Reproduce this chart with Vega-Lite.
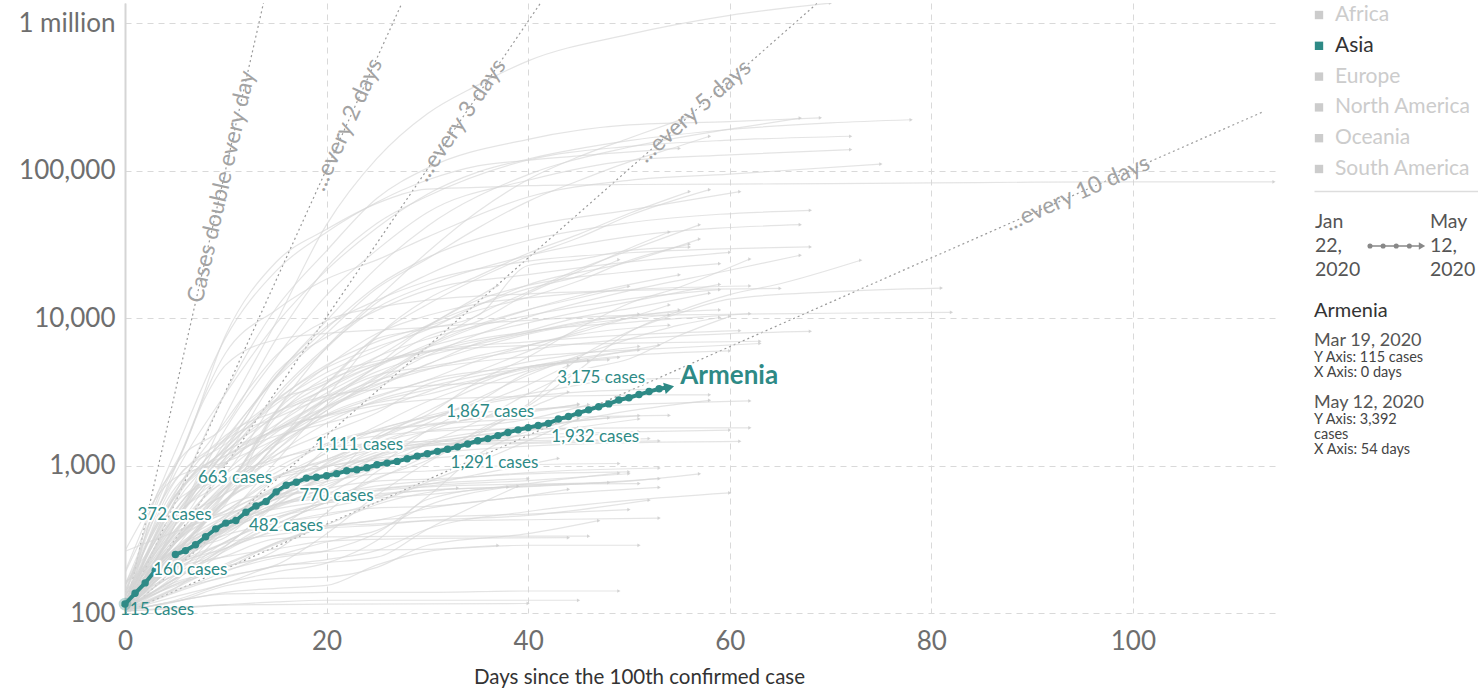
{
"$schema":"https://vega.github.io/schema/vega-lite/v6.json",
"background":"white",
"padding":{"left":3,"top":3,"right":0,"bottom":0},
"config":{"font":"Lato","view":{"stroke":null},"title":{"font":"Lato","subtitleFont":"Lato"}},
"datasets":{
"doubling":[{"k":1,"d":0,"v":100},{"k":1,"d":13.74,"v":1370000},{"k":2,"d":0,"v":100},{"k":2,"d":27.48,"v":1370000},{"k":3,"d":0,"v":100},{"k":3,"d":41.23,"v":1370000},{"k":5,"d":0,"v":100},{"k":5,"d":68.71,"v":1370000},{"k":10,"d":0,"v":100},{"k":10,"d":113,"v":252000}],
"dlabels":[{"k":1,"d":9.6,"v":77600,"t":"Cases double every day"},{"k":2,"d":22,"v":204800,"t":"...every 2 days"},{"k":3,"d":33.3,"v":219500,"t":"...every 3 days"},{"k":5,"d":56.5,"v":252100,"t":"...every 5 days"},{"k":10,"d":94.5,"v":69900,"t":"...every 10 days"}],
"armenia":[{"seg":1,"d":0,"v":115},{"seg":1,"d":1,"v":136},{"seg":1,"d":2,"v":160},{"seg":1,"d":3,"v":194},{"seg":2,"d":5,"v":249},{"seg":2,"d":6,"v":265},{"seg":2,"d":7,"v":290},{"seg":2,"d":8,"v":329},{"seg":2,"d":9,"v":372},{"seg":2,"d":10,"v":407},{"seg":2,"d":11,"v":424},{"seg":2,"d":12,"v":482},{"seg":2,"d":13,"v":532},{"seg":2,"d":14,"v":571},{"seg":2,"d":15,"v":663},{"seg":2,"d":16,"v":736},{"seg":2,"d":17,"v":770},{"seg":2,"d":18,"v":822},{"seg":2,"d":19,"v":833},{"seg":2,"d":20,"v":853},{"seg":2,"d":21,"v":881},{"seg":2,"d":22,"v":921},{"seg":2,"d":23,"v":937},{"seg":2,"d":24,"v":967},{"seg":2,"d":25,"v":1013},{"seg":2,"d":26,"v":1039},{"seg":2,"d":27,"v":1067},{"seg":2,"d":28,"v":1111},{"seg":2,"d":29,"v":1159},{"seg":2,"d":30,"v":1201},{"seg":2,"d":31,"v":1248},{"seg":2,"d":32,"v":1291},{"seg":2,"d":33,"v":1339},{"seg":2,"d":34,"v":1401},{"seg":2,"d":35,"v":1473},{"seg":2,"d":36,"v":1523},{"seg":2,"d":37,"v":1596},{"seg":2,"d":38,"v":1677},{"seg":2,"d":39,"v":1746},{"seg":2,"d":40,"v":1808},{"seg":2,"d":41,"v":1867},{"seg":2,"d":42,"v":1932},{"seg":2,"d":43,"v":2066},{"seg":2,"d":44,"v":2148},{"seg":2,"d":45,"v":2273},{"seg":2,"d":46,"v":2386},{"seg":2,"d":47,"v":2507},{"seg":2,"d":48,"v":2619},{"seg":2,"d":49,"v":2782},{"seg":2,"d":50,"v":2884},{"seg":2,"d":51,"v":3029},{"seg":2,"d":52,"v":3175},{"seg":2,"d":53,"v":3313},{"seg":2,"d":54,"v":3392}],
"alabels":[{"d":0,"v":115,"side":"b"},{"d":2,"v":160,"side":"ra"},{"d":9,"v":372,"side":"la"},{"d":12,"v":482,"side":"rb"},{"d":15,"v":663,"side":"la"},{"d":17,"v":770,"side":"rb"},{"d":28,"v":1111,"side":"la"},{"d":32,"v":1291,"side":"rb"},{"d":41,"v":1867,"side":"la"},{"d":42,"v":1932,"side":"rb"},{"d":52,"v":3175,"side":"la"}],
"countries":[
{"c":"USA","d":0,"v":100},{"c":"USA","d":5,"v":400},{"c":"USA","d":10,"v":2200},{"c":"USA","d":15,"v":9400},{"c":"USA","d":20,"v":43000},{"c":"USA","d":25,"v":121000},{"c":"USA","d":30,"v":243000},{"c":"USA","d":35,"v":380000},{"c":"USA","d":40,"v":555000},{"c":"USA","d":50,"v":840000},{"c":"USA","d":60,"v":1130000},{"c":"USA","d":70,"v":1369000},
{"c":"ESP","d":0,"v":120},{"c":"ESP","d":5,"v":589},{"c":"ESP","d":10,"v":3146},{"c":"ESP","d":15,"v":11700},{"c":"ESP","d":20,"v":28600},{"c":"ESP","d":25,"v":65000},{"c":"ESP","d":30,"v":104000},{"c":"ESP","d":40,"v":163000},{"c":"ESP","d":50,"v":204000},{"c":"ESP","d":60,"v":215000},{"c":"ESP","d":69,"v":228000},
{"c":"ITA","d":0,"v":155},{"c":"ITA","d":5,"v":888},{"c":"ITA","d":10,"v":3089},{"c":"ITA","d":15,"v":9172},{"c":"ITA","d":20,"v":21157},{"c":"ITA","d":25,"v":41035},{"c":"ITA","d":30,"v":69176},{"c":"ITA","d":35,"v":97689},{"c":"ITA","d":40,"v":119827},{"c":"ITA","d":50,"v":159516},{"c":"ITA","d":60,"v":189973},{"c":"ITA","d":70,"v":210717},{"c":"ITA","d":78,"v":221216},
{"c":"GBR","d":0,"v":116},{"c":"GBR","d":5,"v":460},{"c":"GBR","d":10,"v":1140},{"c":"GBR","d":15,"v":4000},{"c":"GBR","d":20,"v":9600},{"c":"GBR","d":25,"v":22000},{"c":"GBR","d":30,"v":42000},{"c":"GBR","d":40,"v":94000},{"c":"GBR","d":50,"v":144000},{"c":"GBR","d":60,"v":191000},{"c":"GBR","d":67,"v":227000},
{"c":"RUS","d":0,"v":114},{"c":"RUS","d":10,"v":658},{"c":"RUS","d":15,"v":2337},{"c":"RUS","d":20,"v":6343},{"c":"RUS","d":25,"v":13584},{"c":"RUS","d":30,"v":27938},{"c":"RUS","d":35,"v":52763},{"c":"RUS","d":40,"v":87147},{"c":"RUS","d":45,"v":124054},{"c":"RUS","d":50,"v":165929},{"c":"RUS","d":56,"v":232243},
{"c":"DEU","d":0,"v":130},{"c":"DEU","d":5,"v":1000},{"c":"DEU","d":10,"v":1900},{"c":"DEU","d":15,"v":7200},{"c":"DEU","d":20,"v":22000},{"c":"DEU","d":25,"v":43900},{"c":"DEU","d":30,"v":67000},{"c":"DEU","d":40,"v":118000},{"c":"DEU","d":50,"v":146000},{"c":"DEU","d":60,"v":161000},{"c":"DEU","d":72,"v":171000},
{"c":"BRA","d":0,"v":151},{"c":"BRA","d":5,"v":621},{"c":"BRA","d":10,"v":1546},{"c":"BRA","d":15,"v":3904},{"c":"BRA","d":20,"v":7910},{"c":"BRA","d":25,"v":15927},{"c":"BRA","d":30,"v":25262},{"c":"BRA","d":35,"v":40743},{"c":"BRA","d":40,"v":61888},{"c":"BRA","d":45,"v":85380},{"c":"BRA","d":50,"v":114715},{"c":"BRA","d":55,"v":146894},{"c":"BRA","d":58,"v":171000},
{"c":"TUR","d":0,"v":191},{"c":"TUR","d":5,"v":1256},{"c":"TUR","d":10,"v":7402},{"c":"TUR","d":15,"v":20921},{"c":"TUR","d":20,"v":38226},{"c":"TUR","d":25,"v":61049},{"c":"TUR","d":30,"v":86306},{"c":"TUR","d":35,"v":107773},{"c":"TUR","d":40,"v":117589},{"c":"TUR","d":45,"v":126045},{"c":"TUR","d":55,"v":141475},
{"c":"FRA","d":0,"v":100},{"c":"FRA","d":5,"v":400},{"c":"FRA","d":10,"v":1784},{"c":"FRA","d":15,"v":5400},{"c":"FRA","d":20,"v":14300},{"c":"FRA","d":25,"v":29000},{"c":"FRA","d":30,"v":52000},{"c":"FRA","d":40,"v":86000},{"c":"FRA","d":50,"v":117000},{"c":"FRA","d":60,"v":128000},{"c":"FRA","d":72,"v":139000},
{"c":"IRN","d":0,"v":141},{"c":"IRN","d":5,"v":978},{"c":"IRN","d":10,"v":5823},{"c":"IRN","d":15,"v":11364},{"c":"IRN","d":20,"v":18407},{"c":"IRN","d":25,"v":24811},{"c":"IRN","d":30,"v":35408},{"c":"IRN","d":40,"v":66220},{"c":"IRN","d":50,"v":85996},{"c":"IRN","d":60,"v":94640},{"c":"IRN","d":75,"v":110767},
{"c":"CHN","d":0,"v":100},{"c":"CHN","d":3,"v":548},{"c":"CHN","d":6,"v":1400},{"c":"CHN","d":10,"v":7700},{"c":"CHN","d":15,"v":24000},{"c":"CHN","d":20,"v":40000},{"c":"CHN","d":25,"v":60000},{"c":"CHN","d":30,"v":75000},{"c":"CHN","d":35,"v":77000},{"c":"CHN","d":40,"v":79000},{"c":"CHN","d":50,"v":80500},{"c":"CHN","d":60,"v":81000},{"c":"CHN","d":70,"v":81600},{"c":"CHN","d":80,"v":82500},{"c":"CHN","d":90,"v":83500},{"c":"CHN","d":100,"v":83900},{"c":"CHN","d":114,"v":84000},
{"c":"CAN","d":0,"v":117},{"c":"CAN","d":5,"v":398},{"c":"CAN","d":10,"v":1470},{"c":"CAN","d":15,"v":4000},{"c":"CAN","d":20,"v":8500},{"c":"CAN","d":25,"v":16500},{"c":"CAN","d":30,"v":25700},{"c":"CAN","d":40,"v":42000},{"c":"CAN","d":50,"v":54000},{"c":"CAN","d":61,"v":72000},
{"c":"IND","d":0,"v":107},{"c":"IND","d":5,"v":396},{"c":"IND","d":10,"v":649},{"c":"IND","d":15,"v":1397},{"c":"IND","d":20,"v":3588},{"c":"IND","d":25,"v":7598},{"c":"IND","d":30,"v":12370},{"c":"IND","d":35,"v":18539},{"c":"IND","d":40,"v":26283},{"c":"IND","d":45,"v":35043},{"c":"IND","d":50,"v":49391},{"c":"IND","d":58,"v":74281},
{"c":"PER","d":0,"v":117},{"c":"PER","d":5,"v":318},{"c":"PER","d":10,"v":580},{"c":"PER","d":15,"v":1414},{"c":"PER","d":20,"v":2954},{"c":"PER","d":25,"v":7519},{"c":"PER","d":30,"v":13489},{"c":"PER","d":35,"v":19250},{"c":"PER","d":40,"v":27517},{"c":"PER","d":45,"v":36976},{"c":"PER","d":50,"v":51189},{"c":"PER","d":56,"v":72059},
{"c":"BEL","d":0,"v":109},{"c":"BEL","d":5,"v":559},{"c":"BEL","d":10,"v":886},{"c":"BEL","d":15,"v":2815},{"c":"BEL","d":20,"v":6235},{"c":"BEL","d":25,"v":12775},{"c":"BEL","d":30,"v":19691},{"c":"BEL","d":40,"v":33573},{"c":"BEL","d":50,"v":44293},{"c":"BEL","d":68,"v":53779},
{"c":"NLD","d":0,"v":128},{"c":"NLD","d":5,"v":503},{"c":"NLD","d":10,"v":1135},{"c":"NLD","d":15,"v":3003},{"c":"NLD","d":20,"v":6412},{"c":"NLD","d":25,"v":11750},{"c":"NLD","d":30,"v":16627},{"c":"NLD","d":40,"v":26551},{"c":"NLD","d":50,"v":35729},{"c":"NLD","d":67,"v":43000},
{"c":"SAU","d":0,"v":118},{"c":"SAU","d":10,"v":767},{"c":"SAU","d":15,"v":1453},{"c":"SAU","d":20,"v":2523},{"c":"SAU","d":25,"v":4033},{"c":"SAU","d":30,"v":6380},{"c":"SAU","d":35,"v":10484},{"c":"SAU","d":40,"v":15102},{"c":"SAU","d":45,"v":21402},{"c":"SAU","d":50,"v":28656},{"c":"SAU","d":57,"v":42925},
{"c":"MEX","d":0,"v":118},{"c":"MEX","d":10,"v":585},{"c":"MEX","d":15,"v":1378},{"c":"MEX","d":20,"v":2785},{"c":"MEX","d":25,"v":4661},{"c":"MEX","d":30,"v":7497},{"c":"MEX","d":35,"v":9501},{"c":"MEX","d":40,"v":14677},{"c":"MEX","d":45,"v":20739},{"c":"MEX","d":50,"v":29616},{"c":"MEX","d":54,"v":38324},
{"c":"PAK","d":0,"v":187},{"c":"PAK","d":5,"v":803},{"c":"PAK","d":10,"v":1526},{"c":"PAK","d":15,"v":2818},{"c":"PAK","d":20,"v":4601},{"c":"PAK","d":25,"v":6383},{"c":"PAK","d":30,"v":8348},{"c":"PAK","d":35,"v":12227},{"c":"PAK","d":40,"v":16817},{"c":"PAK","d":50,"v":24073},{"c":"PAK","d":57,"v":34336},
{"c":"CHL","d":0,"v":156},{"c":"CHL","d":5,"v":632},{"c":"CHL","d":10,"v":1306},{"c":"CHL","d":15,"v":2738},{"c":"CHL","d":20,"v":4815},{"c":"CHL","d":25,"v":6927},{"c":"CHL","d":30,"v":8807},{"c":"CHL","d":35,"v":11296},{"c":"CHL","d":40,"v":13813},{"c":"CHL","d":45,"v":17835},{"c":"CHL","d":50,"v":24581},{"c":"CHL","d":56,"v":31721},
{"c":"ECU","d":0,"v":111},{"c":"ECU","d":5,"v":789},{"c":"ECU","d":10,"v":1403},{"c":"ECU","d":15,"v":2748},{"c":"ECU","d":20,"v":3646},{"c":"ECU","d":25,"v":7257},{"c":"ECU","d":30,"v":8450},{"c":"ECU","d":35,"v":10398},{"c":"ECU","d":40,"v":22719},{"c":"ECU","d":45,"v":24934},{"c":"ECU","d":50,"v":28818},{"c":"ECU","d":56,"v":30298},
{"c":"QAT","d":0,"v":262},{"c":"QAT","d":10,"v":470},{"c":"QAT","d":15,"v":590},{"c":"QAT","d":20,"v":781},{"c":"QAT","d":25,"v":1604},{"c":"QAT","d":30,"v":2210},{"c":"QAT","d":35,"v":3711},{"c":"QAT","d":40,"v":5448},{"c":"QAT","d":45,"v":8525},{"c":"QAT","d":50,"v":12564},{"c":"QAT","d":55,"v":16191},{"c":"QAT","d":62,"v":25149},
{"c":"CHE","d":0,"v":114},{"c":"CHE","d":5,"v":491},{"c":"CHE","d":10,"v":1359},{"c":"CHE","d":15,"v":4075},{"c":"CHE","d":20,"v":8795},{"c":"CHE","d":25,"v":13213},{"c":"CHE","d":30,"v":17768},{"c":"CHE","d":40,"v":24308},{"c":"CHE","d":50,"v":27740},{"c":"CHE","d":68,"v":30380},
{"c":"SWE","d":0,"v":137},{"c":"SWE","d":5,"v":620},{"c":"SWE","d":10,"v":1167},{"c":"SWE","d":15,"v":1763},{"c":"SWE","d":20,"v":2510},{"c":"SWE","d":25,"v":3700},{"c":"SWE","d":30,"v":5568},{"c":"SWE","d":40,"v":10151},{"c":"SWE","d":50,"v":15322},{"c":"SWE","d":60,"v":21092},{"c":"SWE","d":67,"v":26670},
{"c":"PRT","d":0,"v":112},{"c":"PRT","d":5,"v":448},{"c":"PRT","d":10,"v":1280},{"c":"PRT","d":15,"v":4268},{"c":"PRT","d":20,"v":7443},{"c":"PRT","d":25,"v":11278},{"c":"PRT","d":30,"v":15472},{"c":"PRT","d":40,"v":19685},{"c":"PRT","d":50,"v":24027},{"c":"PRT","d":60,"v":27913},
{"c":"SGP","d":0,"v":102},{"c":"SGP","d":10,"v":178},{"c":"SGP","d":15,"v":212},{"c":"SGP","d":20,"v":345},{"c":"SGP","d":25,"v":631},{"c":"SGP","d":30,"v":1049},{"c":"SGP","d":35,"v":1623},{"c":"SGP","d":40,"v":2532},{"c":"SGP","d":45,"v":4427},{"c":"SGP","d":50,"v":8014},{"c":"SGP","d":55,"v":11178},{"c":"SGP","d":60,"v":14423},{"c":"SGP","d":65,"v":17101},{"c":"SGP","d":73,"v":24671},
{"c":"IRL","d":0,"v":129},{"c":"IRL","d":5,"v":557},{"c":"IRL","d":10,"v":1329},{"c":"IRL","d":15,"v":2615},{"c":"IRL","d":20,"v":4273},{"c":"IRL","d":25,"v":6074},{"c":"IRL","d":30,"v":8928},{"c":"IRL","d":35,"v":13271},{"c":"IRL","d":40,"v":16671},{"c":"IRL","d":50,"v":20612},{"c":"IRL","d":59,"v":23401},
{"c":"BLR","d":0,"v":100},{"c":"BLR","d":10,"v":440},{"c":"BLR","d":15,"v":1066},{"c":"BLR","d":20,"v":2578},{"c":"BLR","d":25,"v":4779},{"c":"BLR","d":30,"v":8773},{"c":"BLR","d":35,"v":12208},{"c":"BLR","d":40,"v":15828},{"c":"BLR","d":45,"v":19255},{"c":"BLR","d":49,"v":24873},
{"c":"ARE","d":0,"v":113},{"c":"ARE","d":10,"v":570},{"c":"ARE","d":15,"v":1264},{"c":"ARE","d":20,"v":2359},{"c":"ARE","d":25,"v":3736},{"c":"ARE","d":30,"v":6302},{"c":"ARE","d":35,"v":8756},{"c":"ARE","d":40,"v":11380},{"c":"ARE","d":45,"v":14163},{"c":"ARE","d":55,"v":19661},
{"c":"BGD","d":0,"v":123},{"c":"BGD","d":5,"v":424},{"c":"BGD","d":10,"v":1231},{"c":"BGD","d":15,"v":2144},{"c":"BGD","d":20,"v":3382},{"c":"BGD","d":25,"v":5416},{"c":"BGD","d":30,"v":8790},{"c":"BGD","d":37,"v":16660},
{"c":"POL","d":0,"v":104},{"c":"POL","d":5,"v":355},{"c":"POL","d":10,"v":749},{"c":"POL","d":15,"v":1862},{"c":"POL","d":20,"v":3383},{"c":"POL","d":25,"v":4848},{"c":"POL","d":30,"v":6356},{"c":"POL","d":40,"v":9287},{"c":"POL","d":50,"v":12877},{"c":"POL","d":59,"v":16921},
{"c":"UKR","d":0,"v":113},{"c":"UKR","d":5,"v":356},{"c":"UKR","d":10,"v":1096},{"c":"UKR","d":15,"v":1892},{"c":"UKR","d":20,"v":3102},{"c":"UKR","d":25,"v":4662},{"c":"UKR","d":30,"v":6592},{"c":"UKR","d":35,"v":9009},{"c":"UKR","d":40,"v":11411},{"c":"UKR","d":45,"v":13691},{"c":"UKR","d":50,"v":16425},
{"c":"IDN","d":0,"v":117},{"c":"IDN","d":5,"v":450},{"c":"IDN","d":10,"v":790},{"c":"IDN","d":15,"v":1528},{"c":"IDN","d":20,"v":2491},{"c":"IDN","d":25,"v":3512},{"c":"IDN","d":30,"v":4839},{"c":"IDN","d":35,"v":6760},{"c":"IDN","d":40,"v":8211},{"c":"IDN","d":45,"v":10118},{"c":"IDN","d":50,"v":11587},{"c":"IDN","d":58,"v":14749},
{"c":"ISR","d":0,"v":109},{"c":"ISR","d":5,"v":298},{"c":"ISR","d":10,"v":677},{"c":"ISR","d":15,"v":2369},{"c":"ISR","d":20,"v":4695},{"c":"ISR","d":25,"v":7851},{"c":"ISR","d":30,"v":10408},{"c":"ISR","d":35,"v":12501},{"c":"ISR","d":40,"v":13713},{"c":"ISR","d":50,"v":15589},{"c":"ISR","d":62,"v":16506},
{"c":"JPN","d":0,"v":105},{"c":"JPN","d":10,"v":274},{"c":"JPN","d":20,"v":568},{"c":"JPN","d":25,"v":824},{"c":"JPN","d":30,"v":1086},{"c":"JPN","d":35,"v":1724},{"c":"JPN","d":40,"v":2617},{"c":"JPN","d":45,"v":5347},{"c":"JPN","d":50,"v":8100},{"c":"JPN","d":55,"v":10797},{"c":"JPN","d":60,"v":13441},{"c":"JPN","d":70,"v":15078},{"c":"JPN","d":81,"v":15968},
{"c":"AUT","d":0,"v":104},{"c":"AUT","d":5,"v":655},{"c":"AUT","d":10,"v":2013},{"c":"AUT","d":15,"v":5588},{"c":"AUT","d":20,"v":9618},{"c":"AUT","d":25,"v":11781},{"c":"AUT","d":30,"v":13244},{"c":"AUT","d":40,"v":14595},{"c":"AUT","d":50,"v":15402},{"c":"AUT","d":65,"v":15882},
{"c":"ROU","d":0,"v":123},{"c":"ROU","d":5,"v":308},{"c":"ROU","d":10,"v":1029},{"c":"ROU","d":15,"v":2245},{"c":"ROU","d":20,"v":3613},{"c":"ROU","d":25,"v":5467},{"c":"ROU","d":30,"v":7216},{"c":"ROU","d":40,"v":10417},{"c":"ROU","d":50,"v":13512},{"c":"ROU","d":59,"v":15588},
{"c":"COL","d":0,"v":102},{"c":"COL","d":5,"v":306},{"c":"COL","d":10,"v":702},{"c":"COL","d":15,"v":1267},{"c":"COL","d":20,"v":2223},{"c":"COL","d":25,"v":2979},{"c":"COL","d":30,"v":3792},{"c":"COL","d":35,"v":5142},{"c":"COL","d":40,"v":6507},{"c":"COL","d":45,"v":7973},{"c":"COL","d":50,"v":10051},{"c":"COL","d":54,"v":12272},
{"c":"ZAF","d":0,"v":116},{"c":"ZAF","d":5,"v":709},{"c":"ZAF","d":10,"v":1170},{"c":"ZAF","d":15,"v":1585},{"c":"ZAF","d":20,"v":1934},{"c":"ZAF","d":25,"v":2415},{"c":"ZAF","d":30,"v":3158},{"c":"ZAF","d":35,"v":4361},{"c":"ZAF","d":40,"v":5951},{"c":"ZAF","d":45,"v":8232},{"c":"ZAF","d":50,"v":10015},{"c":"ZAF","d":55,"v":11350},
{"c":"PHL","d":0,"v":111},{"c":"PHL","d":5,"v":307},{"c":"PHL","d":10,"v":552},{"c":"PHL","d":15,"v":2311},{"c":"PHL","d":20,"v":3764},{"c":"PHL","d":25,"v":4932},{"c":"PHL","d":30,"v":5878},{"c":"PHL","d":35,"v":6981},{"c":"PHL","d":40,"v":7958},{"c":"PHL","d":45,"v":9223},{"c":"PHL","d":50,"v":10343},{"c":"PHL","d":59,"v":11350},
{"c":"KWT","d":0,"v":104},{"c":"KWT","d":10,"v":191},{"c":"KWT","d":15,"v":266},{"c":"KWT","d":20,"v":479},{"c":"KWT","d":25,"v":910},{"c":"KWT","d":30,"v":1405},{"c":"KWT","d":35,"v":1995},{"c":"KWT","d":40,"v":3075},{"c":"KWT","d":45,"v":4377},{"c":"KWT","d":50,"v":5278},{"c":"KWT","d":55,"v":7623},{"c":"KWT","d":60,"v":10277},
{"c":"DOM","d":0,"v":112},{"c":"DOM","d":5,"v":581},{"c":"DOM","d":10,"v":1488},{"c":"DOM","d":15,"v":2111},{"c":"DOM","d":20,"v":2967},{"c":"DOM","d":25,"v":4335},{"c":"DOM","d":30,"v":5543},{"c":"DOM","d":35,"v":6652},{"c":"DOM","d":40,"v":7954},{"c":"DOM","d":45,"v":9376},{"c":"DOM","d":51,"v":10634},
{"c":"EGY","d":0,"v":109},{"c":"EGY","d":10,"v":285},{"c":"EGY","d":15,"v":536},{"c":"EGY","d":20,"v":865},{"c":"EGY","d":25,"v":1322},{"c":"EGY","d":30,"v":1939},{"c":"EGY","d":35,"v":2844},{"c":"EGY","d":40,"v":4092},{"c":"EGY","d":45,"v":5537},{"c":"EGY","d":50,"v":7201},{"c":"EGY","d":55,"v":8964},{"c":"EGY","d":59,"v":10093},
{"c":"DNK","d":0,"v":264},{"c":"DNK","d":5,"v":827},{"c":"DNK","d":10,"v":1057},{"c":"DNK","d":15,"v":1514},{"c":"DNK","d":20,"v":2366},{"c":"DNK","d":25,"v":3946},{"c":"DNK","d":30,"v":5819},{"c":"DNK","d":40,"v":8108},{"c":"DNK","d":50,"v":9356},{"c":"DNK","d":62,"v":10713},
{"c":"KOR","d":0,"v":104},{"c":"KOR","d":3,"v":602},{"c":"KOR","d":5,"v":977},{"c":"KOR","d":8,"v":2931},{"c":"KOR","d":10,"v":4812},{"c":"KOR","d":15,"v":7134},{"c":"KOR","d":20,"v":7869},{"c":"KOR","d":30,"v":8652},{"c":"KOR","d":40,"v":9661},{"c":"KOR","d":50,"v":10423},{"c":"KOR","d":60,"v":10613},{"c":"KOR","d":70,"v":10780},{"c":"KOR","d":82,"v":10936},
{"c":"SRB","d":0,"v":103},{"c":"SRB","d":5,"v":249},{"c":"SRB","d":10,"v":659},{"c":"SRB","d":15,"v":1476},{"c":"SRB","d":20,"v":2447},{"c":"SRB","d":25,"v":3380},{"c":"SRB","d":30,"v":4873},{"c":"SRB","d":35,"v":6318},{"c":"SRB","d":40,"v":7779},{"c":"SRB","d":45,"v":9009},{"c":"SRB","d":54,"v":10496},
{"c":"CZE","d":0,"v":116},{"c":"CZE","d":5,"v":464},{"c":"CZE","d":10,"v":1236},{"c":"CZE","d":15,"v":2279},{"c":"CZE","d":20,"v":3308},{"c":"CZE","d":25,"v":4822},{"c":"CZE","d":30,"v":5991},{"c":"CZE","d":40,"v":6900},{"c":"CZE","d":50,"v":7682},{"c":"CZE","d":61,"v":8221},
{"c":"NOR","d":0,"v":113},{"c":"NOR","d":5,"v":621},{"c":"NOR","d":10,"v":1256},{"c":"NOR","d":15,"v":1742},{"c":"NOR","d":20,"v":2866},{"c":"NOR","d":25,"v":4102},{"c":"NOR","d":30,"v":4665},{"c":"NOR","d":40,"v":6086},{"c":"NOR","d":50,"v":7191},{"c":"NOR","d":60,"v":7847},{"c":"NOR","d":68,"v":8132},
{"c":"AUS","d":0,"v":107},{"c":"AUS","d":5,"v":298},{"c":"AUS","d":10,"v":709},{"c":"AUS","d":15,"v":2136},{"c":"AUS","d":20,"v":3984},{"c":"AUS","d":25,"v":5116},{"c":"AUS","d":30,"v":5908},{"c":"AUS","d":40,"v":6523},{"c":"AUS","d":50,"v":6766},{"c":"AUS","d":63,"v":6964},
{"c":"MYS","d":0,"v":129},{"c":"MYS","d":5,"v":428},{"c":"MYS","d":10,"v":1030},{"c":"MYS","d":15,"v":1796},{"c":"MYS","d":20,"v":2766},{"c":"MYS","d":25,"v":3793},{"c":"MYS","d":30,"v":4530},{"c":"MYS","d":40,"v":5482},{"c":"MYS","d":50,"v":6071},{"c":"MYS","d":63,"v":6726},
{"c":"PAN","d":0,"v":109},{"c":"PAN","d":5,"v":345},{"c":"PAN","d":10,"v":901},{"c":"PAN","d":15,"v":1673},{"c":"PAN","d":20,"v":2752},{"c":"PAN","d":25,"v":3574},{"c":"PAN","d":30,"v":4467},{"c":"PAN","d":35,"v":5538},{"c":"PAN","d":40,"v":6532},{"c":"PAN","d":45,"v":7731},{"c":"PAN","d":54,"v":8944},
{"c":"ARG","d":0,"v":128},{"c":"ARG","d":5,"v":502},{"c":"ARG","d":10,"v":1054},{"c":"ARG","d":15,"v":1715},{"c":"ARG","d":20,"v":2208},{"c":"ARG","d":25,"v":2669},{"c":"ARG","d":30,"v":3031},{"c":"ARG","d":35,"v":3780},{"c":"ARG","d":40,"v":4532},{"c":"ARG","d":45,"v":5208},{"c":"ARG","d":53,"v":6563},
{"c":"FIN","d":0,"v":155},{"c":"FIN","d":5,"v":450},{"c":"FIN","d":10,"v":880},{"c":"FIN","d":15,"v":1384},{"c":"FIN","d":20,"v":2176},{"c":"FIN","d":25,"v":2905},{"c":"FIN","d":30,"v":3783},{"c":"FIN","d":40,"v":4695},{"c":"FIN","d":50,"v":5573},{"c":"FIN","d":60,"v":5984},
{"c":"MAR","d":0,"v":115},{"c":"MAR","d":5,"v":275},{"c":"MAR","d":10,"v":708},{"c":"MAR","d":15,"v":1184},{"c":"MAR","d":20,"v":1661},{"c":"MAR","d":25,"v":2283},{"c":"MAR","d":30,"v":3568},{"c":"MAR","d":35,"v":4252},{"c":"MAR","d":40,"v":5053},{"c":"MAR","d":45,"v":5711},{"c":"MAR","d":51,"v":6418},
{"c":"DZA","d":0,"v":139},{"c":"DZA","d":5,"v":367},{"c":"DZA","d":10,"v":716},{"c":"DZA","d":15,"v":1468},{"c":"DZA","d":20,"v":2070},{"c":"DZA","d":25,"v":2718},{"c":"DZA","d":30,"v":3256},{"c":"DZA","d":35,"v":3848},{"c":"DZA","d":40,"v":4648},{"c":"DZA","d":45,"v":5369},{"c":"DZA","d":51,"v":6067},
{"c":"GHA","d":0,"v":137},{"c":"GHA","d":5,"v":204},{"c":"GHA","d":10,"v":287},{"c":"GHA","d":15,"v":566},{"c":"GHA","d":20,"v":1042},{"c":"GHA","d":25,"v":1550},{"c":"GHA","d":30,"v":2074},{"c":"GHA","d":35,"v":2719},{"c":"GHA","d":40,"v":4263},{"c":"GHA","d":46,"v":5127},
{"c":"NGA","d":0,"v":111},{"c":"NGA","d":5,"v":184},{"c":"NGA","d":10,"v":276},{"c":"NGA","d":15,"v":373},{"c":"NGA","d":20,"v":627},{"c":"NGA","d":25,"v":981},{"c":"NGA","d":30,"v":1728},{"c":"NGA","d":35,"v":2558},{"c":"NGA","d":40,"v":3526},{"c":"NGA","d":44,"v":4787},
{"c":"KAZ","d":0,"v":100},{"c":"KAZ","d":5,"v":228},{"c":"KAZ","d":10,"v":464},{"c":"KAZ","d":15,"v":727},{"c":"KAZ","d":20,"v":1232},{"c":"KAZ","d":25,"v":1852},{"c":"KAZ","d":30,"v":2717},{"c":"KAZ","d":35,"v":3597},{"c":"KAZ","d":40,"v":4690},{"c":"KAZ","d":48,"v":5207},
{"c":"MDA","d":0,"v":109},{"c":"MDA","d":5,"v":263},{"c":"MDA","d":10,"v":591},{"c":"MDA","d":15,"v":1174},{"c":"MDA","d":20,"v":1934},{"c":"MDA","d":25,"v":2776},{"c":"MDA","d":30,"v":3408},{"c":"MDA","d":35,"v":4052},{"c":"MDA","d":40,"v":4605},{"c":"MDA","d":49,"v":5406},
{"c":"AFG","d":0,"v":110},{"c":"AFG","d":5,"v":270},{"c":"AFG","d":10,"v":423},{"c":"AFG","d":15,"v":714},{"c":"AFG","d":20,"v":1092},{"c":"AFG","d":25,"v":1531},{"c":"AFG","d":30,"v":2335},{"c":"AFG","d":35,"v":3392},{"c":"AFG","d":40,"v":4402},{"c":"AFG","d":45,"v":5339},
{"c":"LUX","d":0,"v":140},{"c":"LUX","d":5,"v":670},{"c":"LUX","d":10,"v":1605},{"c":"LUX","d":15,"v":2319},{"c":"LUX","d":20,"v":2970},{"c":"LUX","d":25,"v":3281},{"c":"LUX","d":30,"v":3480},{"c":"LUX","d":40,"v":3711},{"c":"LUX","d":50,"v":3859},{"c":"LUX","d":56,"v":3893},
{"c":"HUN","d":0,"v":103},{"c":"HUN","d":5,"v":226},{"c":"HUN","d":10,"v":585},{"c":"HUN","d":15,"v":895},{"c":"HUN","d":20,"v":1410},{"c":"HUN","d":25,"v":1763},{"c":"HUN","d":30,"v":2168},{"c":"HUN","d":35,"v":2583},{"c":"HUN","d":40,"v":2942},{"c":"HUN","d":45,"v":3150},{"c":"HUN","d":52,"v":3284},
{"c":"OMN","d":0,"v":109},{"c":"OMN","d":5,"v":210},{"c":"OMN","d":10,"v":371},{"c":"OMN","d":15,"v":599},{"c":"OMN","d":20,"v":1019},{"c":"OMN","d":25,"v":1508},{"c":"OMN","d":30,"v":2049},{"c":"OMN","d":35,"v":2637},{"c":"OMN","d":40,"v":3058},{"c":"OMN","d":47,"v":3721},
{"c":"THA","d":0,"v":114},{"c":"THA","d":5,"v":411},{"c":"THA","d":10,"v":1045},{"c":"THA","d":15,"v":1771},{"c":"THA","d":20,"v":2169},{"c":"THA","d":25,"v":2551},{"c":"THA","d":30,"v":2792},{"c":"THA","d":40,"v":2938},{"c":"THA","d":50,"v":3004},{"c":"THA","d":58,"v":3017},
{"c":"GRC","d":0,"v":117},{"c":"GRC","d":5,"v":331},{"c":"GRC","d":10,"v":495},{"c":"GRC","d":15,"v":821},{"c":"GRC","d":20,"v":1212},{"c":"GRC","d":25,"v":1735},{"c":"GRC","d":30,"v":2114},{"c":"GRC","d":40,"v":2401},{"c":"GRC","d":50,"v":2591},{"c":"GRC","d":62,"v":2744},
{"c":"IRQ","d":0,"v":101},{"c":"IRQ","d":5,"v":214},{"c":"IRQ","d":10,"v":346},{"c":"IRQ","d":15,"v":547},{"c":"IRQ","d":20,"v":878},{"c":"IRQ","d":25,"v":1232},{"c":"IRQ","d":30,"v":1434},{"c":"IRQ","d":40,"v":1763},{"c":"IRQ","d":50,"v":2346},{"c":"IRQ","d":58,"v":2767},
{"c":"HRV","d":0,"v":105},{"c":"HRV","d":5,"v":306},{"c":"HRV","d":10,"v":713},{"c":"HRV","d":15,"v":1079},{"c":"HRV","d":20,"v":1407},{"c":"HRV","d":25,"v":1704},{"c":"HRV","d":30,"v":1881},{"c":"HRV","d":40,"v":2076},{"c":"HRV","d":54,"v":2187},
{"c":"BOL","d":0,"v":107},{"c":"BOL","d":10,"v":264},{"c":"BOL","d":15,"v":400},{"c":"BOL","d":20,"v":564},{"c":"BOL","d":25,"v":807},{"c":"BOL","d":30,"v":1167},{"c":"BOL","d":35,"v":1681},{"c":"BOL","d":40,"v":2437},{"c":"BOL","d":44,"v":3148},
{"c":"BGR","d":0,"v":163},{"c":"BGR","d":5,"v":264},{"c":"BGR","d":10,"v":422},{"c":"BGR","d":15,"v":593},{"c":"BGR","d":20,"v":747},{"c":"BGR","d":25,"v":975},{"c":"BGR","d":30,"v":1247},{"c":"BGR","d":40,"v":1618},{"c":"BGR","d":51,"v":2069},
{"c":"ISL","d":0,"v":103},{"c":"ISL","d":5,"v":250},{"c":"ISL","d":10,"v":568},{"c":"ISL","d":15,"v":963},{"c":"ISL","d":20,"v":1364},{"c":"ISL","d":25,"v":1586},{"c":"ISL","d":30,"v":1701},{"c":"ISL","d":40,"v":1778},{"c":"ISL","d":50,"v":1799},{"c":"ISL","d":62,"v":1802},
{"c":"EST","d":0,"v":115},{"c":"EST","d":5,"v":258},{"c":"EST","d":10,"v":326},{"c":"EST","d":15,"v":645},{"c":"EST","d":20,"v":858},{"c":"EST","d":25,"v":1185},{"c":"EST","d":30,"v":1400},{"c":"EST","d":40,"v":1605},{"c":"EST","d":50,"v":1689},{"c":"EST","d":60,"v":1739},
{"c":"SVN","d":0,"v":141},{"c":"SVN","d":5,"v":273},{"c":"SVN","d":10,"v":442},{"c":"SVN","d":15,"v":684},{"c":"SVN","d":20,"v":977},{"c":"SVN","d":25,"v":1124},{"c":"SVN","d":30,"v":1212},{"c":"SVN","d":40,"v":1353},{"c":"SVN","d":50,"v":1429},{"c":"SVN","d":61,"v":1460},
{"c":"LTU","d":0,"v":105},{"c":"LTU","d":5,"v":299},{"c":"LTU","d":10,"v":491},{"c":"LTU","d":15,"v":843},{"c":"LTU","d":20,"v":1070},{"c":"LTU","d":25,"v":1298},{"c":"LTU","d":30,"v":1399},{"c":"LTU","d":40,"v":1438},{"c":"LTU","d":52,"v":1523},
{"c":"NZL","d":0,"v":102},{"c":"NZL","d":5,"v":368},{"c":"NZL","d":10,"v":797},{"c":"NZL","d":15,"v":1106},{"c":"NZL","d":20,"v":1312},{"c":"NZL","d":25,"v":1422},{"c":"NZL","d":30,"v":1456},{"c":"NZL","d":40,"v":1479},{"c":"NZL","d":50,"v":1497},
{"c":"SVK","d":0,"v":137},{"c":"SVK","d":5,"v":216},{"c":"SVK","d":10,"v":363},{"c":"SVK","d":15,"v":534},{"c":"SVK","d":20,"v":715},{"c":"SVK","d":25,"v":1045},{"c":"SVK","d":30,"v":1360},{"c":"SVK","d":40,"v":1413},{"c":"SVK","d":53,"v":1469},
{"c":"CUB","d":0,"v":119},{"c":"CUB","d":5,"v":233},{"c":"CUB","d":10,"v":396},{"c":"CUB","d":15,"v":620},{"c":"CUB","d":20,"v":814},{"c":"CUB","d":25,"v":1137},{"c":"CUB","d":30,"v":1389},{"c":"CUB","d":35,"v":1611},{"c":"CUB","d":45,"v":1804},
{"c":"TUN","d":0,"v":114},{"c":"TUN","d":5,"v":278},{"c":"TUN","d":10,"v":455},{"c":"TUN","d":15,"v":623},{"c":"TUN","d":20,"v":780},{"c":"TUN","d":25,"v":879},{"c":"TUN","d":30,"v":918},{"c":"TUN","d":40,"v":1013},{"c":"TUN","d":49,"v":1032},
{"c":"LVA","d":0,"v":111},{"c":"LVA","d":5,"v":221},{"c":"LVA","d":10,"v":376},{"c":"LVA","d":15,"v":548},{"c":"LVA","d":20,"v":630},{"c":"LVA","d":25,"v":727},{"c":"LVA","d":30,"v":784},{"c":"LVA","d":40,"v":896},{"c":"LVA","d":53,"v":962},
{"c":"CYP","d":0,"v":116},{"c":"CYP","d":5,"v":262},{"c":"CYP","d":10,"v":356},{"c":"CYP","d":15,"v":526},{"c":"CYP","d":20,"v":695},{"c":"CYP","d":25,"v":784},{"c":"CYP","d":30,"v":810},{"c":"CYP","d":40,"v":878},{"c":"CYP","d":50,"v":905},
{"c":"LBN","d":0,"v":109},{"c":"LBN","d":5,"v":248},{"c":"LBN","d":10,"v":412},{"c":"LBN","d":15,"v":508},{"c":"LBN","d":20,"v":575},{"c":"LBN","d":25,"v":641},{"c":"LBN","d":30,"v":677},{"c":"LBN","d":40,"v":725},{"c":"LBN","d":50,"v":784},{"c":"LBN","d":57,"v":878},
{"c":"CRI","d":0,"v":113},{"c":"CRI","d":5,"v":231},{"c":"CRI","d":10,"v":375},{"c":"CRI","d":15,"v":467},{"c":"CRI","d":20,"v":558},{"c":"CRI","d":25,"v":626},{"c":"CRI","d":30,"v":681},{"c":"CRI","d":40,"v":719},{"c":"CRI","d":53,"v":815},
{"c":"URY","d":0,"v":110},{"c":"URY","d":5,"v":238},{"c":"URY","d":10,"v":338},{"c":"URY","d":15,"v":406},{"c":"URY","d":20,"v":473},{"c":"URY","d":25,"v":517},{"c":"URY","d":30,"v":528},{"c":"URY","d":40,"v":620},{"c":"URY","d":53,"v":711},
{"c":"GEO","d":0,"v":103},{"c":"GEO","d":5,"v":157},{"c":"GEO","d":10,"v":211},{"c":"GEO","d":15,"v":300},{"c":"GEO","d":20,"v":388},{"c":"GEO","d":25,"v":425},{"c":"GEO","d":30,"v":511},{"c":"GEO","d":40,"v":626},{"c":"GEO","d":44,"v":690},
{"c":"JOR","d":0,"v":112},{"c":"JOR","d":5,"v":212},{"c":"JOR","d":10,"v":274},{"c":"JOR","d":15,"v":358},{"c":"JOR","d":20,"v":389},{"c":"JOR","d":25,"v":402},{"c":"JOR","d":30,"v":425},{"c":"JOR","d":40,"v":459},{"c":"JOR","d":52,"v":582},
{"c":"VEN","d":0,"v":106},{"c":"VEN","d":5,"v":119},{"c":"VEN","d":10,"v":153},{"c":"VEN","d":15,"v":171},{"c":"VEN","d":20,"v":175},{"c":"VEN","d":25,"v":204},{"c":"VEN","d":30,"v":288},{"c":"VEN","d":40,"v":345},{"c":"VEN","d":47,"v":423},
{"c":"MLT","d":0,"v":107},{"c":"MLT","d":5,"v":156},{"c":"MLT","d":10,"v":202},{"c":"MLT","d":15,"v":299},{"c":"MLT","d":20,"v":378},{"c":"MLT","d":25,"v":426},{"c":"MLT","d":30,"v":447},{"c":"MLT","d":40,"v":468},{"c":"MLT","d":50,"v":503},
{"c":"VNM","d":0,"v":113},{"c":"VNM","d":5,"v":153},{"c":"VNM","d":10,"v":207},{"c":"VNM","d":15,"v":245},{"c":"VNM","d":20,"v":262},{"c":"VNM","d":25,"v":268},{"c":"VNM","d":30,"v":270},{"c":"VNM","d":40,"v":288},{"c":"VNM","d":51,"v":288},
{"c":"TWN","d":0,"v":108},{"c":"TWN","d":5,"v":195},{"c":"TWN","d":10,"v":298},{"c":"TWN","d":15,"v":339},{"c":"TWN","d":20,"v":376},{"c":"TWN","d":25,"v":393},{"c":"TWN","d":30,"v":422},{"c":"TWN","d":40,"v":429},{"c":"TWN","d":53,"v":440},
{"c":"BRN","d":0,"v":104},{"c":"BRN","d":5,"v":120},{"c":"BRN","d":10,"v":135},{"c":"BRN","d":15,"v":136},{"c":"BRN","d":20,"v":138},{"c":"BRN","d":30,"v":138},{"c":"BRN","d":40,"v":141},{"c":"BRN","d":49,"v":141},
{"c":"KHM","d":0,"v":103},{"c":"KHM","d":5,"v":109},{"c":"KHM","d":10,"v":114},{"c":"KHM","d":15,"v":119},{"c":"KHM","d":20,"v":122},{"c":"KHM","d":45,"v":122},
{"c":"TTO","d":0,"v":103},{"c":"TTO","d":5,"v":107},{"c":"TTO","d":10,"v":113},{"c":"TTO","d":20,"v":115},{"c":"TTO","d":40,"v":116},
{"c":"MNE","d":0,"v":105},{"c":"MNE","d":5,"v":201},{"c":"MNE","d":10,"v":241},{"c":"MNE","d":15,"v":272},{"c":"MNE","d":20,"v":307},{"c":"MNE","d":30,"v":321},{"c":"MNE","d":44,"v":324},
{"c":"MUS","d":0,"v":102},{"c":"MUS","d":5,"v":186},{"c":"MUS","d":10,"v":244},{"c":"MUS","d":15,"v":318},{"c":"MUS","d":20,"v":328},{"c":"MUS","d":30,"v":332},{"c":"MUS","d":46,"v":332},
{"c":"LKA","d":0,"v":102},{"c":"LKA","d":5,"v":122},{"c":"LKA","d":10,"v":159},{"c":"LKA","d":15,"v":190},{"c":"LKA","d":20,"v":218},{"c":"LKA","d":25,"v":310},{"c":"LKA","d":30,"v":588},{"c":"LKA","d":40,"v":755},{"c":"LKA","d":49,"v":889},
{"c":"KEN","d":0,"v":122},{"c":"KEN","d":5,"v":179},{"c":"KEN","d":10,"v":208},{"c":"KEN","d":15,"v":246},{"c":"KEN","d":20,"v":303},{"c":"KEN","d":25,"v":363},{"c":"KEN","d":30,"v":535},{"c":"KEN","d":38,"v":715},
{"c":"RWA","d":0,"v":104},{"c":"RWA","d":5,"v":120},{"c":"RWA","d":10,"v":138},{"c":"RWA","d":15,"v":147},{"c":"RWA","d":20,"v":154},{"c":"RWA","d":25,"v":212},{"c":"RWA","d":30,"v":261},{"c":"RWA","d":37,"v":287},
{"c":"SMR","d":0,"v":101},{"c":"SMR","d":5,"v":144},{"c":"SMR","d":10,"v":175},{"c":"SMR","d":15,"v":208},{"c":"SMR","d":20,"v":230},{"c":"SMR","d":25,"v":266},{"c":"SMR","d":30,"v":371},{"c":"SMR","d":40,"v":488},{"c":"SMR","d":50,"v":580},{"c":"SMR","d":60,"v":653},
{"c":"AND","d":0,"v":113},{"c":"AND","d":5,"v":224},{"c":"AND","d":10,"v":370},{"c":"AND","d":15,"v":545},{"c":"AND","d":20,"v":601},{"c":"AND","d":25,"v":673},{"c":"AND","d":30,"v":717},{"c":"AND","d":40,"v":748},{"c":"AND","d":51,"v":755},
{"c":"SEN","d":0,"v":105},{"c":"SEN","d":5,"v":162},{"c":"SEN","d":10,"v":195},{"c":"SEN","d":15,"v":237},{"c":"SEN","d":20,"v":265},{"c":"SEN","d":25,"v":350},{"c":"SEN","d":30,"v":614},{"c":"SEN","d":35,"v":1182},{"c":"SEN","d":40,"v":1709},{"c":"SEN","d":48,"v":2105},
{"c":"BFA","d":0,"v":114},{"c":"BFA","d":5,"v":207},{"c":"BFA","d":10,"v":302},{"c":"BFA","d":15,"v":443},{"c":"BFA","d":20,"v":557},{"c":"BFA","d":25,"v":600},{"c":"BFA","d":30,"v":635},{"c":"BFA","d":40,"v":736},{"c":"BFA","d":48,"v":766},
{"c":"CMR","d":0,"v":113},{"c":"CMR","d":5,"v":306},{"c":"CMR","d":10,"v":650},{"c":"CMR","d":15,"v":820},{"c":"CMR","d":20,"v":996},{"c":"CMR","d":25,"v":1430},{"c":"CMR","d":30,"v":1832},{"c":"CMR","d":35,"v":2104},{"c":"CMR","d":45,"v":2579},
{"c":"UZB","d":0,"v":104},{"c":"UZB","d":5,"v":181},{"c":"UZB","d":10,"v":390},{"c":"UZB","d":15,"v":624},{"c":"UZB","d":20,"v":1302},{"c":"UZB","d":25,"v":1716},{"c":"UZB","d":30,"v":1904},{"c":"UZB","d":40,"v":2298},{"c":"UZB","d":45,"v":2612},
{"c":"AZE","d":0,"v":122},{"c":"AZE","d":5,"v":273},{"c":"AZE","d":10,"v":400},{"c":"AZE","d":15,"v":822},{"c":"AZE","d":20,"v":1098},{"c":"AZE","d":25,"v":1436},{"c":"AZE","d":30,"v":1700},{"c":"AZE","d":40,"v":2060},{"c":"AZE","d":46,"v":2589},
{"c":"BIH","d":0,"v":124},{"c":"BIH","d":5,"v":258},{"c":"BIH","d":10,"v":534},{"c":"BIH","d":15,"v":674},{"c":"BIH","d":20,"v":983},{"c":"BIH","d":25,"v":1285},{"c":"BIH","d":30,"v":1485},{"c":"BIH","d":40,"v":1857},{"c":"BIH","d":51,"v":2181},
{"c":"MKD","d":0,"v":114},{"c":"MKD","d":5,"v":219},{"c":"MKD","d":10,"v":384},{"c":"MKD","d":15,"v":599},{"c":"MKD","d":20,"v":854},{"c":"MKD","d":25,"v":1170},{"c":"MKD","d":30,"v":1367},{"c":"MKD","d":40,"v":1511},{"c":"MKD","d":51,"v":1694},
{"c":"HND","d":0,"v":110},{"c":"HND","d":5,"v":172},{"c":"HND","d":10,"v":305},{"c":"HND","d":15,"v":407},{"c":"HND","d":20,"v":457},{"c":"HND","d":25,"v":562},{"c":"HND","d":30,"v":771},{"c":"HND","d":35,"v":1055},{"c":"HND","d":45,"v":2080},
{"c":"GIN","d":0,"v":111},{"c":"GIN","d":5,"v":164},{"c":"GIN","d":10,"v":363},{"c":"GIN","d":15,"v":518},{"c":"GIN","d":20,"v":688},{"c":"GIN","d":25,"v":1163},{"c":"GIN","d":30,"v":1710},{"c":"GIN","d":38,"v":2298},
{"c":"ALB","d":0,"v":104},{"c":"ALB","d":5,"v":212},{"c":"ALB","d":10,"v":304},{"c":"ALB","d":15,"v":446},{"c":"ALB","d":20,"v":518},{"c":"ALB","d":25,"v":609},{"c":"ALB","d":30,"v":726},{"c":"ALB","d":40,"v":789},{"c":"ALB","d":50,"v":880},
{"c":"KGZ","d":0,"v":107},{"c":"KGZ","d":5,"v":147},{"c":"KGZ","d":10,"v":270},{"c":"KGZ","d":15,"v":430},{"c":"KGZ","d":20,"v":568},{"c":"KGZ","d":25,"v":682},{"c":"KGZ","d":30,"v":746},{"c":"KGZ","d":35,"v":871},{"c":"KGZ","d":43,"v":1117},
{"c":"DJI","d":0,"v":135},{"c":"DJI","d":5,"v":298},{"c":"DJI","d":10,"v":591},{"c":"DJI","d":15,"v":846},{"c":"DJI","d":20,"v":986},{"c":"DJI","d":25,"v":1089},{"c":"DJI","d":30,"v":1120},{"c":"DJI","d":36,"v":1210},
{"c":"PRY","d":0,"v":104},{"c":"PRY","d":5,"v":129},{"c":"PRY","d":10,"v":159},{"c":"PRY","d":15,"v":208},{"c":"PRY","d":20,"v":220},{"c":"PRY","d":25,"v":239},{"c":"PRY","d":30,"v":370},{"c":"PRY","d":39,"v":724},
{"c":"NER","d":0,"v":120},{"c":"NER","d":5,"v":342},{"c":"NER","d":10,"v":491},{"c":"NER","d":15,"v":648},{"c":"NER","d":20,"v":657},{"c":"NER","d":25,"v":696},{"c":"NER","d":30,"v":750},{"c":"NER","d":40,"v":815},
{"c":"MLI","d":0,"v":105},{"c":"MLI","d":5,"v":148},{"c":"MLI","d":10,"v":216},{"c":"MLI","d":15,"v":293},{"c":"MLI","d":20,"v":396},{"c":"MLI","d":25,"v":544},{"c":"MLI","d":33,"v":704}
]
},
"spacing":36,
"hconcat":[
{
"width":1153,"height":610,
"encoding":{
"x":{"field":"d","type":"quantitative","scale":{"domain":[0,114.4],"nice":false,"zero":false},"axis":{"values":[0,20,40,60,80,100],"title":"Days since the 100th confirmed case","titleFontSize":20.5,"titleFontWeight":"normal","titleColor":"#333333","titlePadding":13,"titleX":514,"domain":false,"ticks":false,"labelFlush":false,"labelFontSize":26,"labelColor":"#6e6e6e","labelPadding":15,"gridDash":[6,5],"gridColor":"#d9d9d9","gridWidth":1}},
"y":{"field":"v","type":"quantitative","scale":{"type":"log","domain":[100,1370000],"nice":false},"axis":{"values":[100,1000,10000,100000,1000000],"labelExpr":"datum.value >= 1000000 ? '1 million' : format(datum.value, ',')","title":null,"domain":true,"domainColor":"#d5d5d5","domainWidth":2,"ticks":false,"labelFlush":false,"labelFontSize":26,"labelColor":"#6e6e6e","labelPadding":10,"gridDash":[6,5],"gridColor":"#d9d9d9","gridWidth":1,"minExtent":122,"maxExtent":122}}
},
"layer":[
{"data":{"name":"doubling"},"mark":{"type":"line","color":"#9a9a9a","strokeWidth":1.2,"strokeDash":[2,3],"clip":true},"encoding":{"detail":{"field":"k"}}},
{"data":{"name":"countries"},"mark":{"type":"line","interpolate":"monotone","color":"#d6d6d6","strokeWidth":1.2,"opacity":0.65,"clip":true},"encoding":{"detail":{"field":"c"}}},
{"data":{"name":"countries"},"transform":[{"joinaggregate":[{"op":"max","field":"d","as":"maxd"}],"groupby":["c"]},{"filter":"datum.d === datum.maxd"}],"mark":{"type":"point","shape":"triangle-right","size":14,"filled":true,"color":"#cccccc","opacity":0.8,"clip":true}},
{"data":{"name":"dlabels"},"mark":{"type":"text","fontSize":23,"color":"#a3a3a3","align":"center","baseline":"middle"},"encoding":{"text":{"field":"t"},"angle":{"field":"k","type":"quantitative","scale":{"domain":[1,2,3,5,10],"range":[282.8,294.4,304.3,318.6,336.2],"zero":false,"nice":false},"legend":null}}},
{"data":{"name":"armenia"},"mark":{"type":"line","color":"#2e8a86","strokeWidth":4},"encoding":{"detail":{"field":"seg"}}},
{"data":{"name":"armenia"},"transform":[{"filter":"datum.d === 0"}],"mark":{"type":"circle","size":160,"color":"#2e8a86","opacity":0.3}},
{"data":{"name":"armenia"},"transform":[{"filter":"datum.d < 54"}],"mark":{"type":"circle","size":55,"color":"#2e8a86","opacity":1}},
{"data":{"name":"armenia"},"transform":[{"filter":"datum.d === 54"}],"mark":{"type":"point","shape":"triangle-right","size":130,"angle":347,"filled":true,"color":"#2e8a86","opacity":1}},
{"data":{"name":"alabels"},"transform":[{"filter":"datum.side === 'la'"},{"calculate":"format(datum.v, ',') + ' cases'","as":"t"}],"mark":{"type":"text","align":"right","baseline":"middle","dx":-4,"dy":-14,"fontSize":17,"fill":"white","stroke":"white","strokeWidth":4,"strokeJoin":"round"},"encoding":{"text":{"field":"t"}}},
{"data":{"name":"alabels"},"transform":[{"filter":"datum.side === 'la'"},{"calculate":"format(datum.v, ',') + ' cases'","as":"t"}],"mark":{"type":"text","align":"right","baseline":"middle","dx":-4,"dy":-14,"fontSize":17,"color":"#2e8a86"},"encoding":{"text":{"field":"t"}}},
{"data":{"name":"alabels"},"transform":[{"filter":"datum.side === 'rb'"},{"calculate":"format(datum.v, ',') + ' cases'","as":"t"}],"mark":{"type":"text","align":"left","baseline":"middle","dx":3,"dy":14,"fontSize":17,"fill":"white","stroke":"white","strokeWidth":4,"strokeJoin":"round"},"encoding":{"text":{"field":"t"}}},
{"data":{"name":"alabels"},"transform":[{"filter":"datum.side === 'rb'"},{"calculate":"format(datum.v, ',') + ' cases'","as":"t"}],"mark":{"type":"text","align":"left","baseline":"middle","dx":3,"dy":14,"fontSize":17,"color":"#2e8a86"},"encoding":{"text":{"field":"t"}}},
{"data":{"name":"alabels"},"transform":[{"filter":"datum.side === 'ra'"},{"calculate":"format(datum.v, ',') + ' cases'","as":"t"}],"mark":{"type":"text","align":"left","baseline":"middle","dx":8,"dy":-13,"fontSize":17,"fill":"white","stroke":"white","strokeWidth":4,"strokeJoin":"round"},"encoding":{"text":{"field":"t"}}},
{"data":{"name":"alabels"},"transform":[{"filter":"datum.side === 'ra'"},{"calculate":"format(datum.v, ',') + ' cases'","as":"t"}],"mark":{"type":"text","align":"left","baseline":"middle","dx":8,"dy":-13,"fontSize":17,"color":"#2e8a86"},"encoding":{"text":{"field":"t"}}},
{"data":{"name":"alabels"},"transform":[{"filter":"datum.side === 'b'"},{"calculate":"format(datum.v, ',') + ' cases'","as":"t"}],"mark":{"type":"text","align":"left","baseline":"middle","dx":-5,"dy":6,"fontSize":17,"color":"#2e8a86"},"encoding":{"text":{"field":"t"}}},
{"data":{"name":"armenia"},"transform":[{"filter":"datum.d === 54"}],"mark":{"type":"text","align":"left","baseline":"middle","dx":11,"dy":-11,"fontSize":26,"fontWeight":"bold","fill":"white","stroke":"white","strokeWidth":4,"strokeJoin":"round","text":"Armenia"}},
{"data":{"name":"armenia"},"transform":[{"filter":"datum.d === 54"}],"mark":{"type":"text","align":"left","baseline":"middle","dx":11,"dy":-11,"fontSize":26,"fontWeight":"bold","color":"#2e8a86","text":"Armenia"}}
]
},
{
"spacing":10,
"vconcat":[
{
"width":164,"height":178,
"data":{"values":[{"continent":"Africa"},{"continent":"Asia"},{"continent":"Europe"},{"continent":"North America"},{"continent":"Oceania"},{"continent":"South America"}]},
"encoding":{
"y":{"field":"continent","type":"nominal","sort":null,"scale":{"type":"point","padding":0.39},"axis":null},
"x":{"datum":0,"type":"quantitative","scale":{"domain":[0,1],"padding":5,"nice":false,"zero":false},"axis":null}
},
"layer":[
{"mark":{"type":"square","size":70,"opacity":1},"encoding":{"color":{"condition":{"test":"datum.continent === 'Asia'","value":"#2e8a86"},"value":"#cccccc"}}},
{"mark":{"type":"text","align":"left","baseline":"middle","dx":16,"fontSize":21},"encoding":{"text":{"field":"continent"},"color":{"condition":{"test":"datum.continent === 'Asia'","value":"#333333"},"value":"#cccccc"}}}
]
},
{
"width":164,"height":110,
"data":{"values":[{"date":"2020-01-22","kind":"start","label":"Jan\n22,\n2020"},{"date":"2020-02-19","kind":"dot"},{"date":"2020-03-18","kind":"dot"},{"date":"2020-04-15","kind":"dot"},{"date":"2020-05-12","kind":"end","label":"May\n12,\n2020"}]},
"encoding":{
"x":{"field":"date","type":"temporal","scale":{"padding":56,"nice":false},"axis":{"orient":"top","domain":true,"domainColor":"#dddddd","domainWidth":1.5,"labels":false,"ticks":false,"grid":false,"title":null}},
"y":{"datum":0,"type":"quantitative","scale":{"domain":[-1,1]},"axis":null}
},
"layer":[
{"mark":{"type":"line","color":"#888888","strokeWidth":1.5}},
{"transform":[{"filter":"datum.kind !== 'end'"}],"mark":{"type":"circle","size":26,"color":"#888888","opacity":1}},
{"transform":[{"filter":"datum.kind === 'end'"}],"mark":{"type":"point","shape":"triangle-right","size":55,"filled":true,"color":"#888888","opacity":1}},
{"transform":[{"filter":"datum.kind === 'start'"}],"mark":{"type":"text","align":"left","baseline":"middle","dx":-55,"dy":-24,"fontSize":19.5,"lineHeight":24,"lineBreak":"\n","color":"#555555"},"encoding":{"text":{"field":"label"}}},
{"transform":[{"filter":"datum.kind === 'end'"}],"mark":{"type":"text","align":"left","baseline":"middle","dx":8,"dy":-24,"fontSize":19.5,"lineHeight":24,"lineBreak":"\n","color":"#555555"},"encoding":{"text":{"field":"label"}}}
],
"title":{"text":"Armenia","orient":"bottom","anchor":"start","fontSize":20,"fontWeight":"normal","color":"#333333","offset":0}
},
{
"width":164,"height":2,
"data":{"values":[]},
"mark":"point",
"encoding":{},
"title":{"text":"Mar 19, 2020","subtitle":["Y Axis: 115 cases","X Axis: 0 days"],"anchor":"start","fontSize":18,"fontWeight":"normal","color":"#555555","subtitleFontSize":14.5,"subtitleColor":"#444444","subtitleLineHeight":15,"subtitlePadding":1,"offset":2}
},
{
"width":164,"height":2,
"data":{"values":[]},
"mark":"point",
"encoding":{},
"title":{"text":"May 12, 2020","subtitle":["Y Axis: 3,392","cases","X Axis: 54 days"],"anchor":"start","fontSize":18,"fontWeight":"normal","color":"#555555","subtitleFontSize":14.5,"subtitleColor":"#444444","subtitleLineHeight":15,"subtitlePadding":1,"offset":2}
}
]
}
]
}
